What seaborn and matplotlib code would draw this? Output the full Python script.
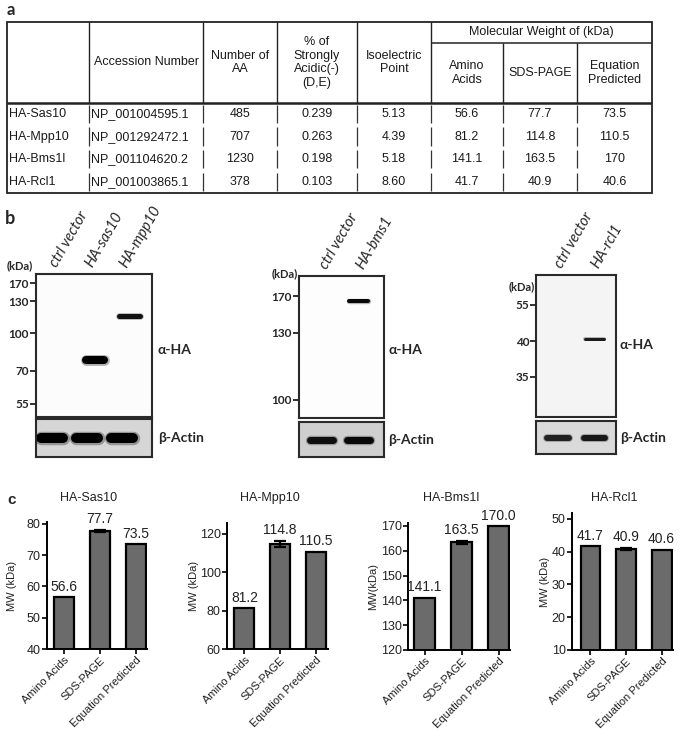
import numpy as np
import pandas as pd
import matplotlib
matplotlib.use("Agg")
import matplotlib.pyplot as plt
import matplotlib.transforms as mtransforms
from matplotlib.patches import Rectangle
import seaborn as sns

# ---------------- data ----------------
proteins = ["HA-Sas10", "HA-Mpp10", "HA-Bms1l", "HA-Rcl1"]
accession = ["NP_001004595.1", "NP_001292472.1", "NP_001104620.2", "NP_001003865.1"]
num_aa = [485, 707, 1230, 378]
acidic_frac = ["0.239", "0.263", "0.198", "0.103"]
isoelectric = ["5.13", "4.39", "5.18", "8.60"]
mw_amino = [56.6, 81.2, 141.1, 41.7]
mw_sds = [77.7, 114.8, 163.5, 40.9]
mw_equation = [73.5, 110.5, 170.0, 40.6]
mw_sds_sd = [0.4, 1.6, 0.6, 0.3]

mw_categories = ["Amino Acids", "SDS-PAGE", "Equation Predicted"]
header_cols = ["", "Accession Number", "Number of\nAA", "% of\nStrongly\nAcidic(-)\n(D,E)", "Isoelectric\nPoint"]
mw_group_title = "Molecular Weight of (kDa)"
mw_sub_headers = ["Amino\nAcids", "SDS-PAGE", "Equation\nPredicted"]

# western blots: lanes, ladder (kDa and relative mobility), band sizes (kDa)
blot_lanes = [["ctrl vector", "HA-sas10", "HA-mpp10"],
              ["ctrl vector", "HA-bms1"],
              ["ctrl vector", "HA-rcl1"]]
blot_ladder_kda = [[170, 130, 100, 70, 55],
                   [170, 130, 100],
                   [55, 40, 35]]
blot_ladder_rf = [[0.063, 0.189, 0.413, 0.678, 0.909],
                  [0.141, 0.401, 0.873],
                  [0.211, 0.465, 0.718]]
blot_band_kda = [[np.nan, mw_sds[0], mw_sds[1]],
                 [np.nan, mw_sds[2]],
                 [np.nan, mw_sds[3]]]
blot_band_intensity = [[0.0, 1.0, 0.9], [0.0, 0.95], [0.0, 0.85]]
actin_intensity = [[1.0, 1.0, 1.0], [0.9, 0.95], [0.8, 0.85]]

# ---------------- style / layout ----------------
W, H = 685, 734
sns.set_style("ticks")
plt.rcParams["font.family"] = ["Liberation Sans", "DejaVu Sans"]
BLOT_FONT = ["Lato", "DejaVu Sans"]

fig = plt.figure(figsize=(W / 100, H / 100), dpi=100)


def rect(l, t, r, b):
    return [l / W, 1 - b / H, (r - l) / W, (b - t) / H]


# ---------------- panel a: table ----------------
col_w = [82, 114, 74, 80, 74, 72, 74, 75]
edges = np.concatenate([[0], np.cumsum(col_w)])
Wt = edges[-1]
hdr_h, sub_h, row_h = 81, 21, 22.5
Ht = hdr_h + row_h * len(proteins)
ax_t = fig.add_axes(rect(7, 22, 7 + Wt, 22 + Ht))
ax_t.set_xlim(0, Wt)
ax_t.set_ylim(Ht, 0)
ax_t.axis("off")
ax_t.add_patch(Rectangle((0, 0), Wt, Ht, fill=False, lw=1.3, ec="#222222", clip_on=False))
ax_t.vlines(edges[1:6], 0, hdr_h, color="#222222", lw=1.0)
ax_t.vlines(edges[6:8], sub_h, hdr_h, color="#222222", lw=1.0)
ax_t.hlines(sub_h, edges[5], Wt, color="#222222", lw=1.1)
ax_t.hlines(hdr_h, 0, Wt, color="#222222", lw=1.8)
for r in range(len(proteins)):
    ax_t.vlines(edges[1:-1], hdr_h + r * row_h + 2, hdr_h + (r + 1) * row_h - 2, color="#333333", lw=0.9)

tfs = 9.0
for c in range(1, 5):
    ax_t.text((edges[c] + edges[c + 1]) / 2, hdr_h / 2, header_cols[c], ha="center", va="center",
              fontsize=tfs, linespacing=1.2, color="#1a1a1a")
ax_t.text((edges[5] + edges[8]) / 2, sub_h / 2, mw_group_title, ha="center", va="center", fontsize=tfs, color="#1a1a1a")
for k in range(3):
    ax_t.text((edges[5 + k] + edges[6 + k]) / 2, (sub_h + hdr_h) / 2, mw_sub_headers[k], ha="center",
              va="center", fontsize=tfs, linespacing=1.2, color="#1a1a1a")
for r in range(len(proteins)):
    y = hdr_h + (r + 0.5) * row_h
    ax_t.text(edges[0] + 2, y, proteins[r], ha="left", va="center", fontsize=tfs, color="#1a1a1a")
    ax_t.text(edges[1] + 2, y, accession[r], ha="left", va="center", fontsize=tfs, color="#1a1a1a")
    vals = [str(num_aa[r]), acidic_frac[r], isoelectric[r], f"{mw_amino[r]:g}", f"{mw_sds[r]:g}", f"{mw_equation[r]:g}"]
    for k, v in enumerate(vals):
        c = k + 2
        ax_t.text((edges[c] + edges[c + 1]) / 2, y, v, ha="center", va="center", fontsize=tfs, color="#1a1a1a")

fig.text(11 / W, 1 - 10 / H, "a", fontsize=12, fontweight="bold", family=BLOT_FONT, ha="center", va="center")

# ---------------- panel b: blots ----------------
ha_boxes = [(36, 274, 152, 417), (299, 276, 384, 418), (536, 275, 616, 417)]
actin_boxes = [(36, 419, 152, 457), (299, 422, 384, 457), (536, 421, 616, 454)]
blot_xlims = [(-0.46, 2.86), (-0.62, 1.68), (-0.6, 1.59)]
ha_shift = [0.22, 0.0, 0.0]
ha_band_px = [[0, 8, 5], [0, 4], [0, 3]]
ha_band_hw = [[0, 0.26, 0.31], [0, 0.26], [0, 0.27]]
actin_px = [10, 7, 6]
actin_hw = [0.31, 0.31, 0.29]
ha_face = ["#fcfcfc", "#fdfdfd", "#f4f4f4"]
actin_face = ["#d6d6d6", "#cfcfcf", "#dadada"]
kda_pos = [(-0.03, 1.06), (-0.01, 1.015), (-0.01, 0.915)]
ha_label_y = [0.47, 0.48, 0.51]
lane_label_dx = [0.22, 0.2, 0.18]


def draw_band(ax, x, y, hw, px, inten):
    for scale, a in [(1.35, 0.3), (1.0, 1.0)]:
        ax.plot([x - hw, x + hw], [y, y], color="black", lw=px * 0.72 * scale, alpha=a * inten,
                solid_capstyle="round")


for b in range(3):
    axh = fig.add_axes(rect(*ha_boxes[b]))
    axa = fig.add_axes(rect(*actin_boxes[b]))
    for ax, fc in [(axh, ha_face[b]), (axa, actin_face[b])]:
        ax.set_facecolor(fc)
        ax.set_xlim(*blot_xlims[b])
        for s in ax.spines.values():
            s.set_visible(True)
            s.set_color("#2a2a2a")
            s.set_linewidth(1.5)
        ax.set_xticks([])
    axh.set_ylim(1, 0)
    axa.set_ylim(1, 0)
    axa.set_yticks([])
    axh.set_yticks(blot_ladder_rf[b])
    axh.set_yticklabels([str(k) for k in blot_ladder_kda[b]], fontsize=8.5, fontweight="bold",
                        family=BLOT_FONT)
    axh.tick_params(axis="y", direction="out", length=4.5, width=1.3, pad=0.5, color="#222222")
    # HA bands
    log_ladder = -np.log(np.array(blot_ladder_kda[b], dtype=float))
    for i, kda in enumerate(blot_band_kda[b]):
        if np.isnan(kda) or blot_band_intensity[b][i] <= 0:
            continue
        rf = np.interp(-np.log(kda), log_ladder, blot_ladder_rf[b])
        draw_band(axh, i + ha_shift[b], rf, ha_band_hw[b][i], ha_band_px[b][i], blot_band_intensity[b][i])
    # actin bands
    for i, inten in enumerate(actin_intensity[b]):
        draw_band(axa, i, 0.5, actin_hw[b], actin_px[b], inten)
    # lane labels
    trans = mtransforms.blended_transform_factory(axa.transData, axh.transAxes)
    for i, lab in enumerate(blot_lanes[b]):
        axh.text(i + lane_label_dx[b], 1.03, lab, transform=trans, rotation=60, rotation_mode="anchor",
                 ha="left", va="bottom", fontsize=10.5, style="italic", family=BLOT_FONT, clip_on=False)
    axh.text(kda_pos[b][0], kda_pos[b][1], "(kDa)", transform=axh.transAxes, ha="right", va="center",
             fontsize=8, fontweight="bold", family=BLOT_FONT)
    axh.text(1.05, ha_label_y[b], "α-HA", transform=axh.transAxes, ha="left", va="center",
             fontsize=10, fontweight="bold", family=BLOT_FONT)
    axa.text(1.05, 0.5, "β-Actin", transform=axa.transAxes, ha="left", va="center",
             fontsize=10, fontweight="bold", family=BLOT_FONT)

fig.text(10 / W, 1 - 219 / H, "b", fontsize=13, fontweight="bold", family=BLOT_FONT, ha="center", va="center")

# ---------------- panel c: bar charts ----------------
bar_boxes = [(47, 522, 147, 649), (227, 523, 328, 649), (408, 523, 510, 650), (572, 513, 673, 650)]
bar_ylims = [(40, 80.6), (60, 125.5), (120, 171.2), (10, 51.8)]
bar_xlims = [(-0.47, 2.31), (-0.49, 2.35), (-0.45, 2.31), (-0.52, 2.32)]
bar_yticks = [[40, 50, 60, 70, 80], [60, 80, 100, 120], [120, 130, 140, 150, 160, 170], [10, 20, 30, 40, 50]]
bar_ylabels = ["MW (kDa)", "MW (kDa)", "MW(kDa)", "MW (kDa)"]
ylabel_x = [-0.30, -0.28, -0.29, -0.22]

for i in range(4):
    ax = fig.add_axes(rect(*bar_boxes[i]))
    vals = [mw_amino[i], mw_sds[i], mw_equation[i]]
    df = pd.DataFrame({"method": mw_categories, "mw": vals})
    sns.barplot(data=df, x="method", y="mw", ax=ax, color="#6b6b6b", saturation=1,
                edgecolor="black", linewidth=1.6, width=0.56, errorbar=None)
    ax.errorbar(x=[1], y=[mw_sds[i]], yerr=[mw_sds_sd[i]], fmt="none", ecolor="black",
                elinewidth=1.6, capsize=4, capthick=1.6, zorder=5)
    for j, v in enumerate(vals):
        top = v + (mw_sds_sd[i] if j == 1 else 0)
        ax.annotate(f"{v:.1f}", (j, top), xytext=(0, 2.5), textcoords="offset points",
                    ha="center", va="bottom", fontsize=10, color="#222222")
    ax.set_ylim(*bar_ylims[i])
    ax.set_xlim(*bar_xlims[i])
    ax.set_yticks(bar_yticks[i])
    ax.set_yticklabels([str(t) for t in bar_yticks[i]], fontsize=9, color="#222222")
    ax.set_xlabel("")
    ax.set_ylabel(bar_ylabels[i], fontsize=8, color="#222222")
    ax.yaxis.set_label_coords(ylabel_x[i], 0.5)
    sns.despine(ax=ax)
    for s in ["left", "bottom"]:
        ax.spines[s].set_linewidth(1.4)
        ax.spines[s].set_color("black")
    ax.tick_params(axis="both", direction="out", length=3.5, width=1.2, pad=1, color="black")
    ax.tick_params(axis="x", labelsize=8, labelcolor="#222222")
    for lab in ax.get_xticklabels():
        lab.set_rotation(45)
        lab.set_ha("right")
        lab.set_rotation_mode("anchor")
    trans = mtransforms.blended_transform_factory(ax.transAxes, fig.transFigure)
    ax.text(0.42, 1 - 498 / H, proteins[i], transform=trans, ha="center", va="center",
            fontsize=9, color="#222222")

fig.text(12 / W, 1 - 500 / H, "c", fontsize=11, fontweight="bold", ha="center", va="center")

fig.savefig("out.png", dpi=100, facecolor="white")
